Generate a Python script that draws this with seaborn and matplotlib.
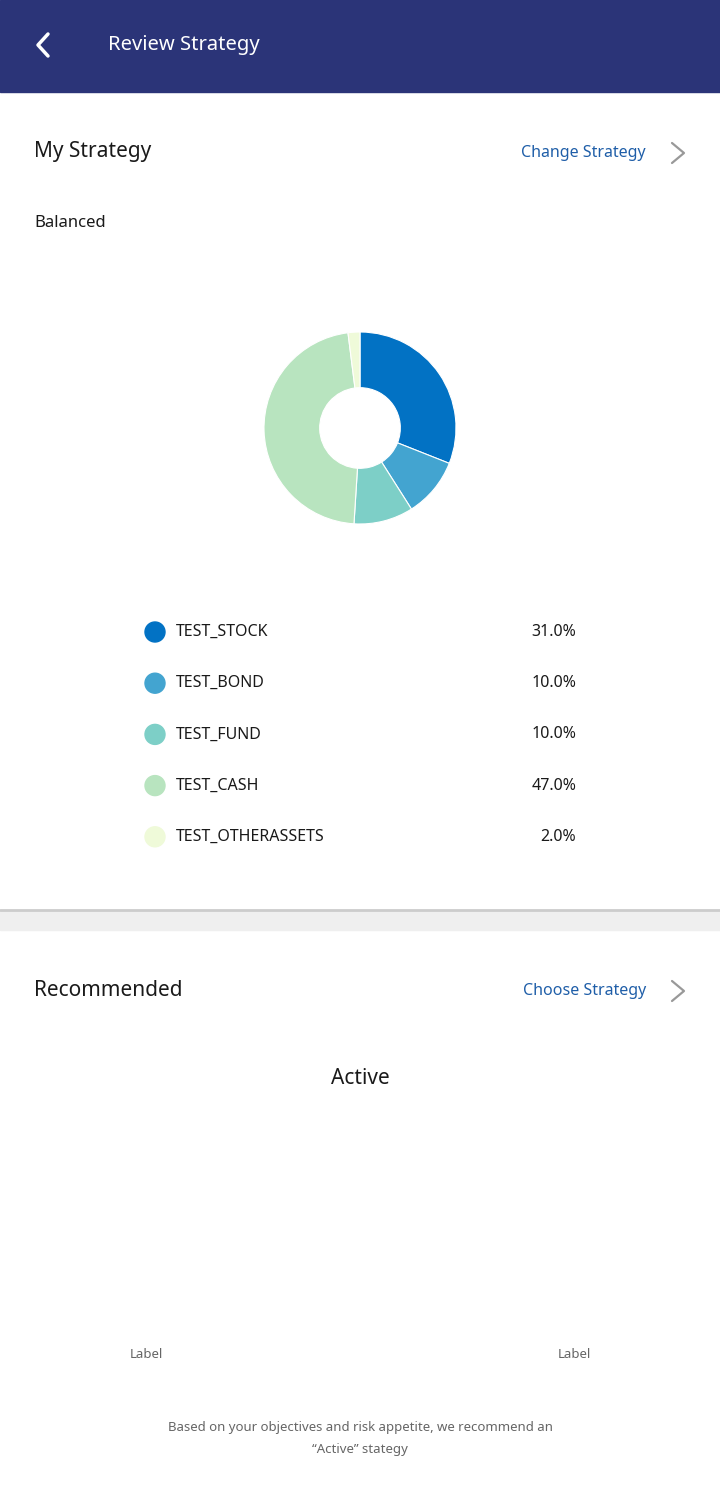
import matplotlib
matplotlib.use("Agg")
import matplotlib.pyplot as plt
import seaborn as sns
from matplotlib.patches import Rectangle, Circle

sns.set_theme(style="white")
plt.rcParams["font.family"] = "Noto Sans"

categories = ["TEST_STOCK", "TEST_BOND", "TEST_FUND", "TEST_CASH", "TEST_OTHERASSETS"]
values = [31.0, 10.0, 10.0, 47.0, 2.0]
colors = ["#0272c4", "#43a4d0", "#7dcfc7", "#b8e4bf", "#effad9"]
value_labels = [f"{v:.1f}%" for v in values]

W, H = 720, 1492
fig = plt.figure(figsize=(7.2, 14.92), dpi=100)
bg = fig.add_axes([0, 0, 1, 1])
bg.set_xlim(0, W); bg.set_ylim(H, 0); bg.axis("off")

# header
bg.add_patch(Rectangle((0, 0), W, 92, color="#2b3478"))
bg.plot([48, 38, 48], [34, 45, 56], color="white", lw=2.5, solid_capstyle="round")
bg.text(108, 45, "Review Strategy", color="white", fontsize=14.5, va="center")

# section 1
bg.text(34, 152, "My Strategy", fontsize=15, fontweight="bold", va="center", color="#1a1a1a")
bg.text(646, 153, "Change Strategy", fontsize=11.5, color="#1f5ea8", va="center", ha="right")
bg.plot([672, 684, 672], [143, 153, 163], color="#999999", lw=1.6)
bg.text(34, 223, "Balanced", fontsize=12, va="center", color="#1a1a1a")

# separator
bg.add_patch(Rectangle((0, 910), W, 20, color="#efefef"))
bg.plot([0, W], [910, 910], color="#cccccc", lw=2)

# legend
for i, (cat, col, vl) in enumerate(zip(categories, colors, value_labels)):
    y = 632 + i * 51.2
    bg.add_patch(Circle((155, y), 10, color=col))
    bg.text(176, y, cat, fontsize=11.5, va="center", color="#1a1a1a")
    bg.text(576, y, vl, fontsize=11.5, va="center", ha="right", color="#1a1a1a")

# section 2
bg.text(34, 990, "Recommended", fontsize=15, fontweight="bold", va="center", color="#1a1a1a")
bg.text(646, 991, "Choose Strategy", fontsize=11.5, color="#1f5ea8", va="center", ha="right")
bg.plot([672, 684, 672], [981, 991, 1001], color="#999999", lw=1.6)
bg.text(360, 1078, "Active", fontsize=15, fontweight="bold", va="center", ha="center", color="#1a1a1a")
bg.text(146, 1355, "Label", fontsize=9.5, va="center", ha="center", color="#666666")
bg.text(574, 1355, "Label", fontsize=9.5, va="center", ha="center", color="#666666")
bg.text(360, 1428, "Based on your objectives and risk appetite, we recommend an",
        fontsize=9.5, va="center", ha="center", color="#666666")
bg.text(360, 1450, "\u201cActive\u201d stategy", fontsize=9.5, va="center", ha="center", color="#666666")

# donut
cx, cy, r = 360, 428, 120
pie_ax = fig.add_axes([(cx - r) / W, 1 - (cy + r) / H, 2 * r / W, 2 * r / H])
pie_ax.pie(values, colors=colors, startangle=90, counterclock=False,
           wedgeprops=dict(width=0.58, edgecolor="white", linewidth=0.8), radius=1)
pie_ax.set_aspect("equal")
pie_ax.axis("off")

fig.savefig("out.png", dpi=100)
